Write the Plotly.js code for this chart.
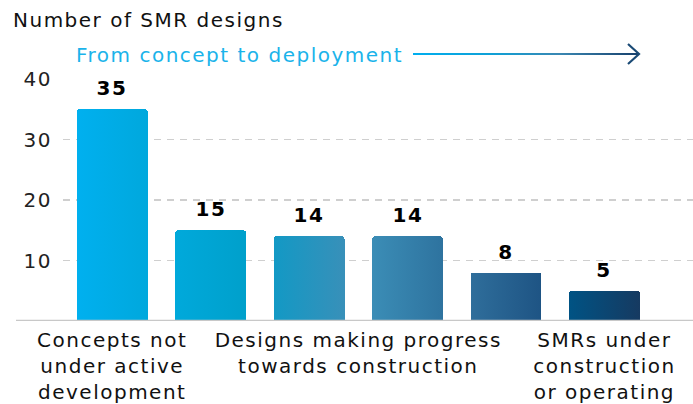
<!DOCTYPE html>
<html>
<head>
<meta charset="utf-8">
<script src="https://cdn.plot.ly/plotly-3.0.1.min.js"></script>
<style>
  html, body { margin: 0; padding: 0; background: #fff; }
  #chart { width: 693px; height: 404px; }
  #chart text { letter-spacing: 1.5px; }
  #chart .arrow-grad { stroke: url(#arrowGrad) !important; }
</style>
</head>
<body>
<svg width="0" height="0" style="position:absolute">
  <defs>
    <linearGradient id="arrowGrad" gradientUnits="userSpaceOnUse" x1="413" y1="0" x2="639" y2="0">
      <stop offset="0" stop-color="#00aeef"/>
      <stop offset="0.35" stop-color="#0fa0d6"/>
      <stop offset="0.65" stop-color="#3a87b2"/>
      <stop offset="1" stop-color="#173f6b"/>
    </linearGradient>
  </defs>
</svg>
<div id="chart"></div>
<script>
// SMR designs by stage
const stages = [0, 1, 2, 3, 4, 5];
const designCounts = [35, 15, 14, 14, 8, 5];
const stageTickVals = [0, 2.5, 5];
const stageTickText = [
    'Concepts not<br>under active<br>development',
    'Designs making progress<br>towards construction',
    'SMRs under<br>construction<br>or operating'
];
const yTickVals = [10, 20, 30, 40];

// left/right colours of each bar's horizontal gradient
const barGradients = [
    ['#00b0ef', '#00a8dd'],
    ['#00a9db', '#00a0cb'],
    ['#1299c5', '#3890b9'],
    ['#3b8db6', '#2e739f'],
    ['#2f6e9b', '#1e5484'],
    ['#005384', '#163a61']
];

const FONT = '"DejaVu Sans", "Open Sans", sans-serif';
const W = 693, H = 404;
const M = { l: 63, r: 0, t: 79, b: 83 };
const plotW = W - M.l - M.r, plotH = H - M.t - M.b;
const px = x => (x - M.l) / plotW;
const py = y => (H - M.b - y) / plotH;

const data = [{
    type: 'bar',
    x: stages,
    y: designCounts,
    width: 0.72,
    marker: { color: barGradients.map(g => g[0]), cornerradius: 3, line: { width: 0 } },
    hoverinfo: 'skip'
}];

const annotations = designCounts.map((v, i) => ({
    x: stages[i],
    y: v,
    xref: 'x',
    yref: 'y',
    text: '<b>' + v + '</b>',
    showarrow: false,
    yanchor: 'bottom',
    yshift: 7,
    font: { family: FONT, size: 20, color: '#000' }
}));

annotations.push({
    xref: 'paper', yref: 'paper',
    x: px(11), y: py(20),
    xanchor: 'left', yanchor: 'middle', align: 'left',
    text: 'Number of SMR designs',
    showarrow: false,
    font: { family: FONT, size: 20, color: '#111' }
});
annotations.push({
    xref: 'paper', yref: 'paper',
    x: px(74), y: py(55),
    xanchor: 'left', yanchor: 'middle', align: 'left',
    text: 'From concept to deployment',
    showarrow: false,
    font: { family: FONT, size: 20, color: '#1ab3ea' }
});

const layout = {
    width: W,
    height: H,
    margin: M,
    paper_bgcolor: '#fff',
    plot_bgcolor: '#fff',
    showlegend: false,
    bargap: 0,
    font: { family: FONT, size: 20, color: '#111' },
    xaxis: {
        type: 'linear',
        range: [-0.5, 5.9],
        tickvals: stageTickVals,
        ticktext: stageTickText,
        showgrid: false,
        zeroline: false,
        showline: false,
        ticks: '',
        ticklabelstandoff: 5,
        tickfont: { family: FONT, size: 20, color: '#111' },
        fixedrange: true
    },
    yaxis: {
        range: [0, 40],
        tickvals: yTickVals,
        showgrid: true,
        gridcolor: '#cfcfcf',
        gridwidth: 1.5,
        griddash: '7px,6px',
        zeroline: false,
        showline: false,
        ticks: '',
        ticklabelstandoff: 10,
        tickfont: { family: FONT, size: 20, color: '#222' },
        fixedrange: true
    },
    annotations: annotations,
    shapes: [
        // base line
        {
            type: 'line', xref: 'paper', yref: 'y',
            x0: px(16), x1: 1, y0: 0, y1: 0,
            line: { color: '#c8c8c8', width: 2.5 }
        },
        // progress arrow
        {
            type: 'line', xref: 'paper', yref: 'paper',
            x0: px(413), x1: px(639), y0: py(54), y1: py(54),
            line: { color: '#1a4a75', width: 2 }
        },
        {
            type: 'path', xref: 'paper', yref: 'paper',
            path: 'M' + px(628) + ',' + py(44) + ' L' + px(639) + ',' + py(54) + ' L' + px(628) + ',' + py(64),
            line: { color: '#1a4a75', width: 2.2 }
        }
    ]
};

const config = { staticPlot: true, displayModeBar: false, responsive: false };

function applyGradients(gd) {
    const svg = gd.querySelector('svg.main-svg');
    const ns = 'http://www.w3.org/2000/svg';
    let defs = svg.querySelector('defs.custom-grads');
    if (!defs) {
        defs = document.createElementNS(ns, 'defs');
        defs.setAttribute('class', 'custom-grads');
        svg.insertBefore(defs, svg.firstChild);
        barGradients.forEach((g, i) => {
            const lg = document.createElementNS(ns, 'linearGradient');
            lg.setAttribute('id', 'barGrad' + i);
            lg.setAttribute('x1', 0); lg.setAttribute('y1', 0);
            lg.setAttribute('x2', 1); lg.setAttribute('y2', 0);
            [[0, g[0]], [1, g[1]]].forEach(([off, col]) => {
                const s = document.createElementNS(ns, 'stop');
                s.setAttribute('offset', off);
                s.setAttribute('stop-color', col);
                lg.appendChild(s);
            });
            defs.appendChild(lg);
        });
    }
    gd.querySelectorAll('.bars .point path').forEach((p, i) => {
        p.style.fill = 'url(#barGrad' + i + ')';
    });

    // arrow line: find the long flat shape path and fit the gradient to it
    const grad = document.getElementById('arrowGrad');
    gd.querySelectorAll('.shapelayer path').forEach(p => {
        const b = p.getBBox();
        if (b.width > 150 && b.width < 300 && b.height < 4) {
            grad.setAttribute('x1', b.x);
            grad.setAttribute('x2', b.x + b.width);
            p.classList.add('arrow-grad');
            p.style.setProperty('stroke', 'url(#arrowGrad)', 'important');
        }
    });
}

Plotly.newPlot('chart', data, layout, config).then(gd => {
    applyGradients(gd);
    gd.on('plotly_afterplot', () => applyGradients(gd));
    setTimeout(() => applyGradients(gd), 50);
});
</script>
</body>
</html>
